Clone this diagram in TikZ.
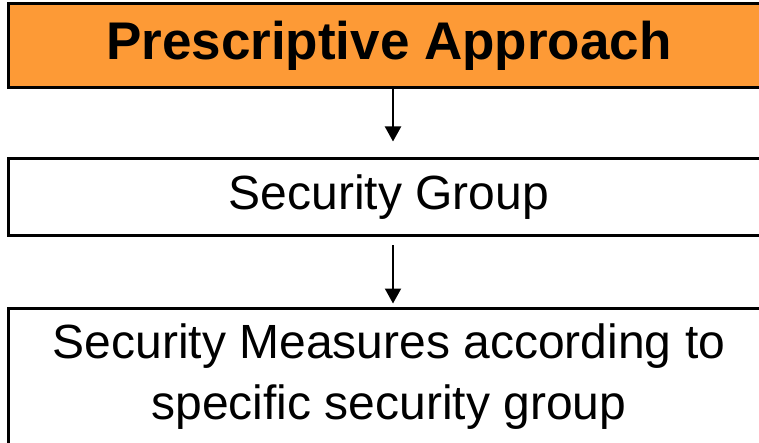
\documentclass[tikz,border=0pt]{standalone}
\usepackage{fontspec}
\setmainfont{Liberation Sans}
\usepackage{tikz}
\usetikzlibrary{arrows.meta}
\pgfdeclarelayer{nodelayer}
\pgfdeclarelayer{edgelayer}
\pgfsetlayers{edgelayer,nodelayer,main}
\definecolor{approachorange}{HTML}{FD9A36}
\tikzstyle{stage box}=[draw=black, line width=3pt, shape=rectangle, minimum width=762pt, inner sep=0pt, align=center]
\tikzstyle{head box}=[stage box, fill=approachorange, font=\fontsize{53}{60}\selectfont\bfseries]
\tikzstyle{plain box}=[stage box, fill=white, font=\fontsize{48}{61}\selectfont]
\tikzstyle{down arrow}=[line width=2pt, -{Triangle[width=16pt,length=15pt]}]

\begin{document}
\begin{tikzpicture}[x=1pt, y=-1pt]
	\useasboundingbox (0,0) rectangle (759,443);
	\begin{pgfonlayer}{nodelayer}
		\node [style=head box, minimum height=84pt] (approach) at (389, 46) {Prescriptive Approach};
		\node [style=plain box, minimum height=77pt] (group) at (389, 197.5) {Security Group};
		\node [style=plain box, minimum height=137pt] (measures) at (389, 376.5) {Security Measures according to\\specific security group};
	\end{pgfonlayer}
	\begin{pgfonlayer}{edgelayer}
		\draw [style=down arrow, shorten >=16pt] (approach.south -| 393,0) to (group.north -| 393,0);
		\draw [style=down arrow, shorten <=8pt, shorten >=3pt] (group.south -| 393,0) to (measures.north -| 393,0);
	\end{pgfonlayer}
\end{tikzpicture}
\end{document}
